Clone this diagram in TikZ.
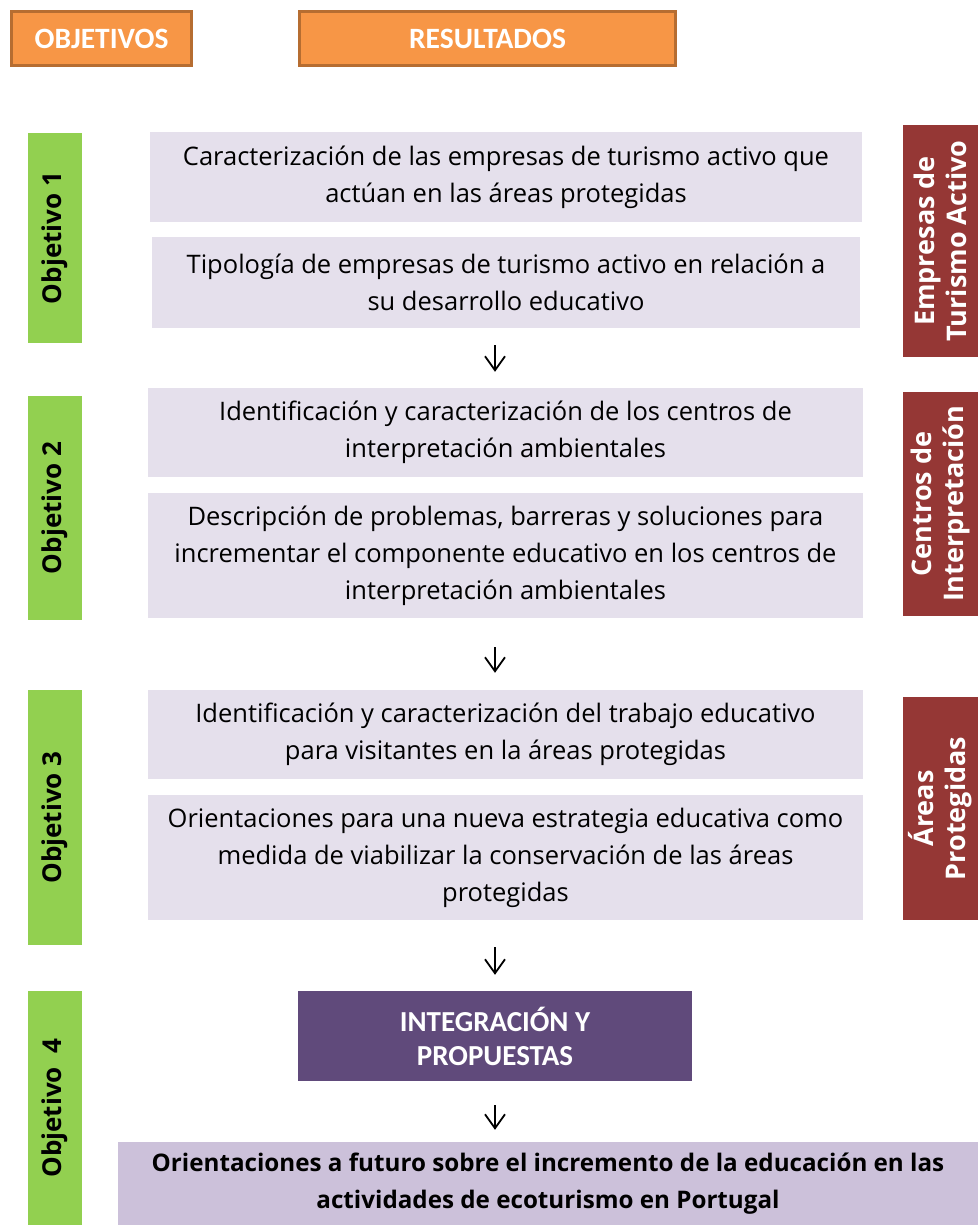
\documentclass[tikz,border=0pt]{standalone}
\usepackage{fontspec}
\setmainfont{Open Sans}
\newfontfamily\calib{Carlito}
\usetikzlibrary{arrows.meta,positioning,calc}

\definecolor{naranja}{HTML}{F79646}
\definecolor{naranjaosc}{HTML}{B66D31}
\definecolor{verde}{HTML}{92D050}
\definecolor{lila}{HTML}{E5E0EC}
\definecolor{lilaosc}{HTML}{CCC1DA}
\definecolor{morado}{HTML}{604A7B}
\definecolor{granate}{HTML}{953735}

\begin{document}
\begin{tikzpicture}[x=1pt, y=-1pt,
    header/.style={rectangle, draw=naranjaosc, line width=3pt, fill=naranja, text=white,
        font=\calib\bfseries\fontsize{29.5}{32}\selectfont, minimum height=54pt},
    objbar/.style={rectangle, fill=verde, rotate=90, minimum height=54pt,
        font=\bfseries\fontsize{26}{30}\selectfont},
    resbox/.style={rectangle, fill=lila, align=center, inner sep=0pt,
        font=\fontsize{25.5}{37}\selectfont},
    sidebar/.style={rectangle, fill=granate, rotate=90, minimum height=75pt, text=white,
        align=center, inner sep=0pt, font=\bfseries\fontsize{27}{32}\selectfont},
    arrow/.style={-{Straight Barb[length=14pt,width=20pt]}, line width=1.8pt}
]
    % Margins
    \useasboundingbox (0,0) rectangle (978,1225);

    % Headers
    \node[header, minimum width=180pt] (objetivos) at (101.5,38.5) {OBJETIVOS};
    \node[header, minimum width=376pt] (resultados) at (487.5,38.5) {RESULTADOS};

    % Objectives
    \node[objbar, minimum width=210pt] (obj1) at (55,238) {Objetivo 1};
    \node[objbar, minimum width=224pt] (obj2) at (55,508) {Objetivo 2};
    \node[objbar, minimum width=255pt] (obj3) at (55,817.5) {Objetivo 3};
    \node[objbar, minimum width=234pt] (obj4) at (55,1108) {Objetivo\ \ 4};

    % Results
    \node[resbox, minimum width=712pt, minimum height=90pt] (res1) at (506,177)
        {Caracterización de las empresas de turismo activo que\\actúan en las áreas protegidas};
    \node[resbox, minimum width=708pt, minimum height=91pt] (res2) at (506,282.5)
        {Tipología de empresas de turismo activo en relación a\\su desarrollo educativo};
    \node[resbox, minimum width=715pt, minimum height=89pt] (res3) at (505.5,432.5)
        {Identificación y caracterización de los centros de\\interpretación ambientales};
    \node[resbox, minimum width=715pt, minimum height=125pt] (res4) at (505.5,555.5)
        {Descripción de problemas, barreras y soluciones para\\incrementar el componente educativo en los centros de\\interpretación ambientales};
    \node[resbox, minimum width=715pt, minimum height=89pt] (res5) at (505.5,734.5)
        {Identificación y caracterización del trabajo educativo\\para visitantes en la áreas protegidas};
    \node[resbox, minimum width=715pt, minimum height=125pt] (res6) at (505.5,857.5)
        {Orientaciones para una nueva estrategia educativa como\\medida de viabilizar la conservación de las áreas\\protegidas};

    % Side labels
    \node[sidebar, minimum width=232pt] (empresas) at (940.5,241) {Empresas de\\Turismo Activo};
    \node[sidebar, minimum width=224pt] (centros) at (940.5,504) {Centros de\\Interpretación};
    \node[sidebar, minimum width=223pt] (areas) at (940.5,808.5) {Áreas\\Protegidas};

    % Integration
    \node[rectangle, fill=morado, text=white, align=center, minimum width=394pt, minimum height=90pt,
        font=\calib\bfseries\fontsize{29}{34}\selectfont] (integ) at (495,1036)
        {INTEGRACIÓN Y\\PROPUESTAS};
    \node[rectangle, fill=lilaosc, align=center, minimum width=860pt, minimum height=84pt, inner sep=0pt,
        font=\bfseries\fontsize{24.2}{37}\selectfont] (futuro) at (548,1184)
        {Orientaciones a futuro sobre el incremento de la educación en las\\actividades de ecoturismo en Portugal};

    % Arrows
    \draw[arrow, shorten <=17pt, shorten >=16pt] (res2.south -| integ.north) -- (res3.north -| integ.north);
    \draw[arrow, shorten <=29pt, shorten >=17pt] (res4.south -| integ.north) -- (res5.north -| integ.north);
    \draw[arrow, shorten <=27pt, shorten >=16pt] (res6.south -| integ.north) -- (integ.north);
    \draw[arrow, shorten <=24pt, shorten >=12pt] (integ.south) -- (integ.south |- futuro.north);
\end{tikzpicture}
\end{document}
